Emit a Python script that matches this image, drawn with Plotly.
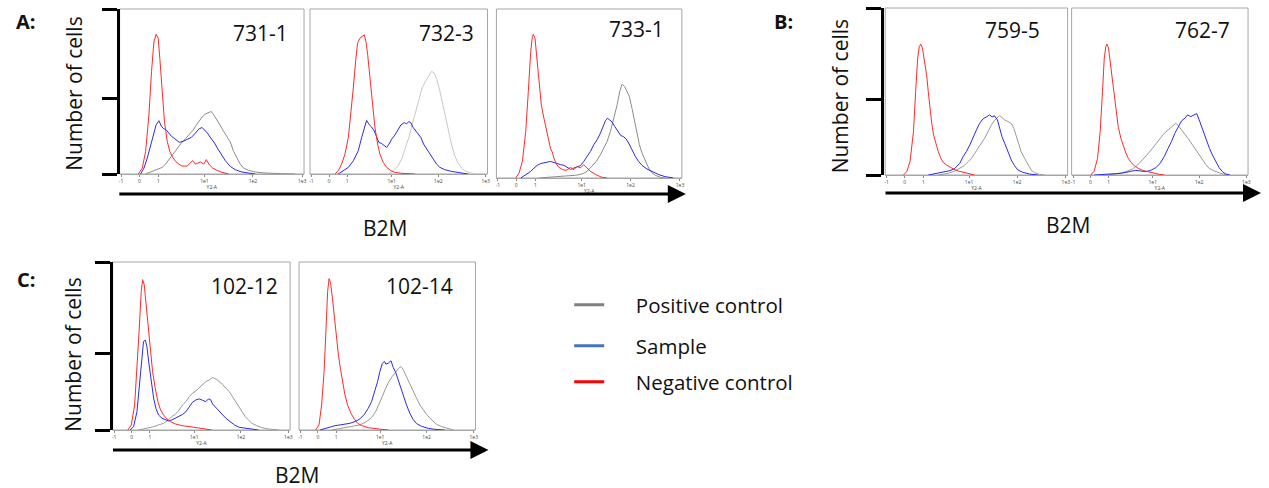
import plotly.graph_objects as go

W, H = 1269, 488

# ---------------- data (x: channel position 0-100 on the biexponential Y2-A axis, y: % of max) ----------------
tick_vals = [0.8, 10.7, 21.0, 46.0, 72.3, 99.0]
tick_text = ["-1", "0", "1", "1e1", "1e2", "1e3"]

# Panel 731-1
A1_neg_x = [10.1, 12.3, 14.1, 15.9, 17.3, 18.6, 19.8, 20.9, 21.8, 23.1, 24.3, 25.8, 27.2, 28.8, 30.3, 32.1, 33.9, 36.6, 39.6, 41.1, 43.8, 45.6, 47.0, 48.6, 50.5, 52.8, 55.5, 59.1]
A1_neg_y = [0, 3.6, 13.7, 35.9, 62.1, 80.2, 84.7, 82.3, 70.2, 48.0, 31.9, 19.8, 13.7, 10.1, 7.7, 6.0, 4.8, 4.8, 8.1, 6.0, 7.3, 6.0, 8.7, 5.6, 3.6, 2.2, 1.0, 0]
A1_smp_x = [11.4, 13.2, 15.0, 16.8, 18.6, 19.8, 21.3, 22.7, 24.0, 25.2, 26.7, 28.1, 29.4, 30.8, 32.4, 34.4, 36.6, 38.9, 41.1, 42.9, 44.7, 46.1, 47.6, 49.4, 51.2, 53.0, 55.1, 57.3, 60.0, 62.7, 66.3, 69.9, 73.5]
A1_smp_y = [0, 3.6, 9.7, 17.7, 25.8, 29.8, 32.3, 28.8, 27.4, 26.8, 24.8, 22.8, 21.8, 20.4, 19.2, 19.8, 20.8, 22.2, 24.8, 27.2, 28.2, 26.6, 24.8, 21.8, 19.2, 15.7, 11.7, 8.1, 4.6, 2.6, 1.2, 0.4, 0]
A1_pos_x = [14.1, 17.7, 20.4, 23.1, 24.9, 26.7, 28.5, 30.3, 32.1, 33.9, 35.7, 37.5, 39.6, 41.4, 43.2, 45.0, 46.8, 49.7, 51.0, 52.8, 54.6, 56.4, 58.2, 60.0, 61.8, 63.6, 65.4, 67.2, 69.9, 73.5, 78.9, 87.9, 95.1]
A1_pos_y = [0, 1.6, 2.6, 4.0, 6.0, 8.7, 11.7, 14.1, 16.7, 19.4, 21.4, 23.4, 26.2, 29.4, 32.3, 34.9, 36.5, 37.9, 35.9, 32.9, 29.4, 25.8, 22.8, 19.4, 13.7, 9.7, 6.0, 3.6, 2.2, 1.2, 0.6, 0.2, 0]

# Panel 732-3
A2_neg_x = [14.1, 15.9, 17.8, 19.7, 21.6, 23.1, 24.4, 25.7, 26.8, 28.1, 29.5, 30.6, 31.5, 32.5, 33.8, 35.1, 36.6, 38.1, 39.4, 41.3, 43.2, 45.6, 47.8, 51.6, 59.1]
A2_neg_y = [0, 2.0, 6.0, 12.0, 22.1, 36.1, 52.2, 68.3, 79.3, 82.3, 83.3, 84.3, 80.3, 72.3, 58.2, 42.2, 28.1, 18.1, 12.0, 7.0, 4.0, 2.0, 1.0, 0.4, 0]
A2_smp_x = [15.9, 18.8, 21.6, 24.4, 27.2, 29.1, 30.6, 31.9, 33.2, 34.7, 36.2, 37.5, 38.8, 40.3, 41.8, 43.2, 44.5, 46.0, 47.5, 49.3, 51.2, 53.1, 54.4, 55.7, 56.8, 58.2, 59.5, 61.0, 62.5, 64.0, 65.7, 67.5, 69.4, 71.3, 73.2, 76.0, 79.7, 83.5, 89.1]
A2_smp_y = [0, 2.0, 4.0, 8.0, 14.1, 22.1, 28.1, 32.5, 30.1, 28.5, 26.1, 22.1, 19.1, 18.5, 17.1, 16.1, 18.1, 21.1, 23.1, 26.1, 29.7, 31.1, 30.5, 31.7, 31.1, 28.1, 26.1, 24.5, 22.1, 18.1, 15.1, 12.4, 9.0, 6.0, 4.0, 2.6, 1.6, 0.8, 0]
A2_pos_x = [44.1, 46.9, 49.7, 52.0, 53.8, 55.7, 57.6, 59.5, 61.4, 63.2, 65.1, 67.0, 68.5, 70.0, 71.5, 73.2, 74.9, 76.4, 77.9, 79.7, 81.6, 83.5, 85.4, 87.2, 90.1, 92.9]
A2_pos_y = [0, 2.0, 5.0, 10.0, 16.1, 22.1, 30.1, 38.2, 46.2, 52.2, 56.2, 59.2, 62.2, 61.2, 57.2, 50.2, 42.2, 34.1, 26.1, 18.1, 11.0, 6.4, 3.6, 2.0, 0.8, 0]

# Panel 733-1
A3_neg_x = [10.4, 12.2, 14.0, 15.8, 17.2, 18.5, 19.4, 19.9, 20.8, 21.7, 22.9, 24.2, 25.6, 26.9, 28.3, 29.2, 30.1, 31.0, 32.3, 33.7, 35.8, 37.6, 40.0, 41.8, 43.5, 45.3, 47.1, 48.9, 50.7, 52.5, 54.3, 57.0, 59.7]
A3_neg_y = [0, 3.0, 9.8, 27.6, 51.2, 74.8, 83.7, 85.0, 82.7, 72.8, 55.1, 43.3, 35.4, 29.5, 21.7, 17.3, 15.4, 11.8, 8.3, 6.3, 4.9, 4.5, 6.3, 4.9, 6.9, 5.9, 7.9, 5.9, 3.9, 2.8, 1.6, 0.4, 0]
A3_smp_x = [13.1, 15.8, 18.5, 20.3, 22.0, 23.8, 25.6, 27.4, 29.2, 31.0, 32.8, 34.6, 36.4, 38.2, 40.0, 41.8, 43.5, 45.3, 47.1, 48.9, 50.7, 52.5, 54.3, 56.1, 57.5, 58.8, 59.9, 61.1, 62.4, 63.8, 65.6, 67.0, 68.6, 69.9, 71.3, 73.1, 74.9, 76.7, 78.5, 81.2, 83.9, 87.5, 91.0, 95.5]
A3_smp_y = [0, 2.0, 3.9, 5.9, 7.5, 8.5, 9.1, 9.4, 9.8, 9.1, 8.3, 7.9, 7.5, 6.5, 5.1, 5.9, 6.5, 7.3, 9.8, 12.8, 15.7, 19.7, 22.6, 26.6, 30.5, 33.9, 35.4, 34.4, 33.1, 30.5, 27.6, 25.2, 24.4, 23.2, 20.7, 16.7, 12.8, 9.8, 7.5, 5.3, 3.9, 2.0, 0.8, 0]
A3_pos_x = [22.9, 26.5, 31.9, 37.3, 42.7, 46.2, 48.9, 51.6, 53.8, 56.1, 57.9, 59.7, 61.5, 63.3, 65.1, 66.5, 67.7, 69.2, 70.4, 71.7, 73.1, 74.6, 75.8, 77.1, 78.5, 80.3, 82.1, 83.9, 85.7, 88.4, 91.0]
A3_pos_y = [0, 0.4, 0.8, 1.2, 1.6, 2.4, 3.9, 6.9, 9.8, 13.8, 17.7, 21.7, 27.6, 35.4, 43.3, 51.2, 55.5, 54.1, 51.6, 48.2, 41.3, 33.5, 25.6, 19.7, 14.8, 9.8, 5.9, 3.0, 1.6, 0.4, 0]

# Panel 759-5
B1_neg_x = [10.0, 11.8, 13.6, 15.5, 16.7, 17.8, 18.7, 19.5, 20.4, 21.5, 22.7, 23.6, 24.5, 25.5, 26.5, 27.6, 29.1, 30.5, 31.8, 33.6, 35.5, 37.3, 40.0, 42.7, 45.5, 49.1]
B1_neg_y = [0, 2.0, 8.0, 26.0, 50.0, 70.0, 77.0, 78.4, 76.0, 68.0, 60.0, 50.0, 40.0, 31.0, 24.0, 19.0, 14.0, 10.0, 7.6, 6.0, 4.6, 3.6, 2.4, 1.6, 0.8, 0]
B1_smp_x = [23.6, 29.1, 32.7, 35.5, 38.2, 40.9, 42.7, 44.5, 46.4, 48.2, 50.0, 51.8, 53.6, 55.5, 57.3, 58.5, 60.0, 61.5, 62.7, 64.0, 65.5, 67.3, 69.1, 70.9, 72.7, 75.5, 79.1, 83.6]
B1_smp_y = [0, 1.0, 2.0, 2.6, 4.0, 7.0, 11.0, 14.0, 18.0, 23.0, 27.0, 31.0, 33.6, 34.8, 36.0, 34.8, 35.4, 33.0, 28.0, 23.0, 19.0, 14.0, 9.0, 5.6, 3.0, 1.6, 0.6, 0]
B1_pos_x = [29.1, 34.5, 38.2, 40.9, 43.3, 45.5, 47.3, 49.1, 50.9, 52.7, 54.5, 56.4, 58.2, 60.0, 61.5, 62.7, 64.0, 65.5, 67.3, 69.1, 70.5, 71.8, 73.1, 74.5, 76.4, 78.2, 80.0, 81.8, 84.5, 87.3]
B1_pos_y = [0, 1.0, 2.4, 4.0, 5.6, 8.0, 10.0, 13.0, 16.0, 19.0, 22.0, 26.0, 30.0, 32.8, 34.4, 35.6, 34.4, 33.0, 32.0, 30.8, 28.0, 23.0, 18.0, 14.0, 10.0, 6.0, 3.0, 1.4, 0.4, 0]

# Panel 762-7
B2_neg_x = [10.9, 12.8, 14.7, 16.2, 17.5, 18.5, 19.4, 20.0, 20.9, 21.9, 23.0, 24.2, 25.3, 26.4, 27.9, 29.4, 30.8, 32.1, 33.6, 35.5, 37.7, 40.2, 43.0, 45.8, 49.6, 52.5]
B2_neg_y = [0, 2.4, 10.0, 26.0, 50.0, 70.0, 77.0, 78.4, 76.0, 68.0, 59.0, 49.0, 38.0, 29.0, 22.0, 17.0, 13.0, 10.0, 7.6, 5.6, 4.0, 2.8, 2.0, 1.2, 0.4, 0]
B2_smp_x = [12.8, 22.3, 27.9, 32.6, 36.4, 39.2, 42.1, 44.9, 47.7, 50.2, 52.5, 54.7, 56.6, 58.5, 60.4, 62.3, 64.2, 65.7, 67.5, 69.4, 70.9, 72.3, 73.6, 75.1, 76.6, 78.1, 79.8, 81.7, 83.6, 85.5, 87.4, 89.8]
B2_smp_y = [0, 0.4, 1.0, 2.0, 2.8, 2.4, 2.0, 2.8, 4.4, 7.0, 11.0, 16.0, 20.0, 25.0, 29.0, 32.4, 34.0, 36.0, 35.0, 36.0, 36.8, 33.0, 29.0, 24.0, 20.0, 16.0, 12.0, 8.0, 4.4, 2.0, 0.6, 0]
B2_pos_x = [20.4, 26.0, 30.8, 34.5, 37.4, 40.2, 43.0, 45.8, 48.3, 50.2, 52.5, 54.7, 57.2, 59.1, 60.9, 62.8, 64.7, 66.6, 68.5, 70.4, 72.3, 74.2, 76.0, 77.9, 80.8, 84.5, 88.3]
B2_pos_y = [0, 0.8, 2.0, 3.6, 6.0, 9.0, 12.4, 16.0, 19.6, 22.4, 25.0, 27.0, 29.0, 31.0, 29.0, 26.4, 24.0, 21.0, 18.0, 15.0, 12.0, 9.0, 6.4, 4.0, 2.4, 1.0, 0]

# Panel 102-12
C1_neg_x = [8.6, 10.5, 12.4, 13.7, 15.0, 16.1, 16.9, 17.8, 18.8, 19.9, 21.2, 22.5, 24.0, 25.5, 26.8, 28.7, 30.6, 32.5, 35.3, 39.0, 44.7, 52.2, 55.9]
C1_neg_y = [0, 3.0, 14.9, 34.8, 60.6, 82.5, 89.5, 86.5, 74.6, 60.6, 46.7, 34.8, 24.9, 16.9, 12.5, 8.9, 6.6, 5.0, 3.6, 2.6, 1.8, 0.6, 0]
C1_smp_x = [9.9, 11.8, 13.7, 15.2, 16.5, 17.4, 18.4, 19.3, 20.3, 21.6, 23.1, 24.4, 25.9, 27.8, 29.6, 31.5, 33.4, 35.3, 37.5, 39.4, 41.3, 43.2, 45.0, 46.9, 48.8, 50.7, 52.5, 54.0, 55.2, 56.3, 57.8, 59.7, 61.5, 63.8, 66.2, 68.7, 71.3, 74.7, 78.4, 82.2]
C1_smp_y = [0, 2.0, 10.9, 28.8, 44.7, 52.7, 53.5, 49.7, 40.8, 28.8, 18.9, 12.9, 8.9, 7.0, 6.0, 5.4, 6.0, 7.0, 8.0, 9.3, 10.9, 13.9, 16.5, 17.9, 18.5, 17.7, 16.9, 18.5, 18.1, 15.5, 13.7, 11.7, 9.3, 7.0, 5.0, 3.0, 1.6, 1.0, 0.4, 0]
C1_pos_x = [14.6, 17.4, 20.3, 23.1, 25.9, 28.7, 31.5, 33.4, 35.3, 37.5, 39.4, 41.3, 43.2, 45.0, 46.9, 48.8, 50.7, 52.5, 54.4, 56.3, 58.2, 60.0, 61.9, 63.8, 65.7, 67.5, 69.4, 70.9, 72.8, 74.7, 76.5, 78.4, 81.2, 84.1, 87.8, 93.4]
C1_pos_y = [0, 0.6, 1.4, 2.0, 3.0, 4.0, 6.0, 8.0, 9.3, 11.9, 14.9, 16.9, 19.9, 21.9, 23.3, 25.2, 27.2, 28.8, 29.8, 31.2, 30.4, 28.8, 27.2, 24.9, 22.9, 19.9, 16.9, 13.9, 10.9, 8.0, 6.0, 4.0, 2.6, 1.4, 0.6, 0]

# Panel 102-14
C2_neg_x = [9.4, 11.3, 12.8, 14.2, 15.3, 16.2, 17.0, 17.9, 18.9, 20.0, 21.1, 22.3, 23.4, 24.5, 26.0, 27.5, 29.4, 31.3, 33.2, 35.5, 39.2, 44.9, 50.6]
C2_neg_y = [0, 3.0, 14.9, 34.8, 60.6, 82.5, 90.1, 87.5, 78.5, 66.6, 54.7, 44.7, 36.8, 28.8, 20.9, 14.9, 9.9, 6.6, 4.0, 2.6, 1.4, 0.6, 0]
C2_smp_x = [11.9, 14.7, 17.5, 20.4, 23.2, 26.0, 28.9, 31.7, 34.5, 37.0, 39.2, 41.1, 43.0, 44.5, 45.8, 47.2, 48.3, 49.2, 50.6, 52.1, 53.4, 54.7, 56.2, 57.7, 59.2, 60.9, 62.8, 64.7, 66.6, 69.4, 73.2, 77.0, 82.6]
C2_smp_y = [0, 1.0, 2.0, 2.6, 3.0, 3.4, 4.0, 5.0, 6.6, 9.3, 12.9, 16.9, 22.9, 28.8, 34.8, 39.6, 40.8, 39.2, 39.8, 41.2, 37.2, 34.4, 29.8, 24.9, 19.9, 14.9, 9.9, 6.2, 3.8, 2.2, 1.0, 0.4, 0]
C2_pos_x = [18.5, 24.2, 29.8, 34.5, 38.3, 41.1, 43.4, 45.3, 47.2, 49.1, 50.9, 52.8, 54.7, 56.2, 57.7, 59.1, 60.4, 61.9, 63.4, 64.9, 66.6, 68.5, 70.4, 72.3, 74.2, 76.0, 77.9, 80.8, 83.6, 87.4]
C2_pos_y = [0, 1.0, 2.0, 3.0, 5.0, 7.4, 10.9, 14.9, 19.9, 24.9, 28.8, 31.8, 34.8, 36.4, 37.8, 35.8, 32.8, 29.2, 25.8, 22.5, 18.9, 14.9, 11.9, 9.3, 7.0, 5.0, 3.4, 2.0, 1.0, 0]

sample_names = ["731-1", "732-3", "733-1", "759-5", "762-7", "102-12", "102-14"]
legend_names = ["Positive control", "Sample", "Negative control"]

# ---------------- layout geometry (pixels) ----------------
# left, right, top, bottom of each histogram frame
boxes = [(119, 304, 9, 174), (310, 488, 9, 174), (497, 683, 9, 178),
         (887, 1070, 8, 175), (1074, 1251, 8, 175),
         (112, 290, 262, 430), (299, 476, 262, 430)]
label_pos = [(290, 33), (477, 33), (667, 29), (1044, 30), (1235, 30), (280, 286), (455, 286)]
pos_colors = ["#8c8c8c", "#c8c8c8", "#8c8c8c", "#999999", "#999999", "#999999", "#999999"]
NEG_C = "#ff2a2a"
SMP_C = "#2a2ae6"

panels = [
    (A1_pos_x, A1_pos_y, A1_smp_x, A1_smp_y, A1_neg_x, A1_neg_y),
    (A2_pos_x, A2_pos_y, A2_smp_x, A2_smp_y, A2_neg_x, A2_neg_y),
    (A3_pos_x, A3_pos_y, A3_smp_x, A3_smp_y, A3_neg_x, A3_neg_y),
    (B1_pos_x, B1_pos_y, B1_smp_x, B1_smp_y, B1_neg_x, B1_neg_y),
    (B2_pos_x, B2_pos_y, B2_smp_x, B2_smp_y, B2_neg_x, B2_neg_y),
    (C1_pos_x, C1_pos_y, C1_smp_x, C1_smp_y, C1_neg_x, C1_neg_y),
    (C2_pos_x, C2_pos_y, C2_smp_x, C2_smp_y, C2_neg_x, C2_neg_y),
]

FONT = "Open Sans"
fig = go.Figure()
layout = dict(width=W, height=H, margin=dict(l=0, r=0, t=0, b=0),
              paper_bgcolor="white", plot_bgcolor="white", showlegend=True,
              font=dict(family=FONT, color="#111"))
shapes = []
annotations = []

# bracket y-axes: panel index -> (bracket x px, mid tick %)
brackets = {0: (117, 45.5), 3: (884, 45.0), 5: (110, 45.8)}

for i, (px, py, sx, sy, nx, ny) in enumerate(panels):
    n = "" if i == 0 else str(i + 1)
    xa, ya = "x" + n, "y" + n
    l, r, t, b = boxes[i]
    for xs, ys, c in ((px, py, pos_colors[i]), (sx, sy, SMP_C), (nx, ny, NEG_C)):
        fig.add_trace(go.Scatter(x=xs, y=ys, mode="lines", line=dict(color=c, width=1),
                                 xaxis=xa, yaxis=ya, showlegend=False, hoverinfo="skip"))
    layout["xaxis" + n] = dict(domain=[l / W, r / W], range=[0, 100], anchor=ya,
                               showline=True, linecolor="#a6a6a6", linewidth=1,
                               ticks="outside", ticklen=2, tickcolor="#888",
                               tickvals=tick_vals, ticktext=tick_text,
                               tickfont=dict(size=5, color="#444"),
                               title=dict(text="Y2-A", font=dict(size=5, color="#444"), standoff=1),
                               showgrid=False, zeroline=False, fixedrange=True)
    yd = dict(domain=[1 - b / H, 1 - t / H], range=[0, 100], anchor=xa,
              showgrid=False, zeroline=False, showticklabels=False, fixedrange=True)
    if i in brackets:
        bx, mid = brackets[i]
        yd.update(anchor="free", position=bx / W, showline=True, linecolor="black",
                  linewidth=3, ticks="outside", ticklen=15, tickwidth=3, tickcolor="black",
                  tickvals=[0, mid, 100])
    else:
        yd.update(showline=False, ticks="")
    layout["yaxis" + n] = yd
    shapes.append(dict(type="rect", xref=xa + " domain", yref=ya + " domain",
                       x0=0, x1=1, y0=0, y1=1, line=dict(color="#a6a6a6", width=1), layer="below"))
    lx, ly = label_pos[i]
    annotations.append(dict(text=sample_names[i], x=lx / W, y=1 - ly / H, xref="paper", yref="paper",
                            xanchor="right", yanchor="middle", showarrow=False,
                            font=dict(size=21, family=FONT, color="#111")))

# panel letters
for txt, x, y in (("A:", 13, 22), ("B:", 773, 21), ("C:", 14, 279)):
    annotations.append(dict(text="<b>%s</b>" % txt, x=x / W, y=1 - y / H, xref="paper", yref="paper",
                            xanchor="left", yanchor="middle", showarrow=False,
                            font=dict(size=20, family=FONT, color="#111")))
# y titles
for x, y in ((73, 94), (842, 96), (72, 355)):
    annotations.append(dict(text="Number of cells", x=x / W, y=1 - y / H, xref="paper", yref="paper",
                            textangle=-90, xanchor="center", yanchor="middle", showarrow=False,
                            font=dict(size=21, family=FONT, color="#111")))
# B2M arrows and titles
for x0, x1, y, tx, ty in ((119, 687, 194, 385, 228), (887, 1264, 193, 1070, 225), (112, 489, 450, 297, 475)):
    annotations.append(dict(text="", x=x1 / W, y=1 - y / H, xref="paper", yref="paper",
                            ax=-(x1 - x0), ay=0, axref="pixel", ayref="pixel",
                            showarrow=True, arrowhead=2, arrowsize=1.2, arrowwidth=3, arrowcolor="black"))
    annotations.append(dict(text="B2M", x=tx / W, y=1 - ty / H, xref="paper", yref="paper",
                            xanchor="center", yanchor="middle", showarrow=False,
                            font=dict(size=21, family=FONT, color="#111")))

# legend entries
leg_colors = ["#7f7f7f", "#4472c4", "#ff0000"]
leg_y = [305, 346, 382]
for k, (nm, c) in enumerate(zip(legend_names, leg_colors)):
    lk = "legend" if k == 0 else "legend%d" % (k + 1)
    fig.add_trace(go.Scatter(x=[None], y=[None], mode="lines", name="\u00a0" * 5 + nm,
                             line=dict(color=c, width=3), legend=lk, xaxis="x", yaxis="y"))
    layout[lk] = dict(x=570 / W, y=1 - leg_y[k] / H, xanchor="left", yanchor="middle",
                      bgcolor="rgba(0,0,0,0)", font=dict(size=20.5, family=FONT, color="#111"),
                      itemwidth=30)

layout["shapes"] = shapes
layout["annotations"] = annotations
fig.update_layout(**layout)
fig.write_html("out.html", config={"displayModeBar": False},
               post_script="document.body.style.margin='0';document.body.style.padding='0';"
                           "document.body.style.overflow='hidden';")
